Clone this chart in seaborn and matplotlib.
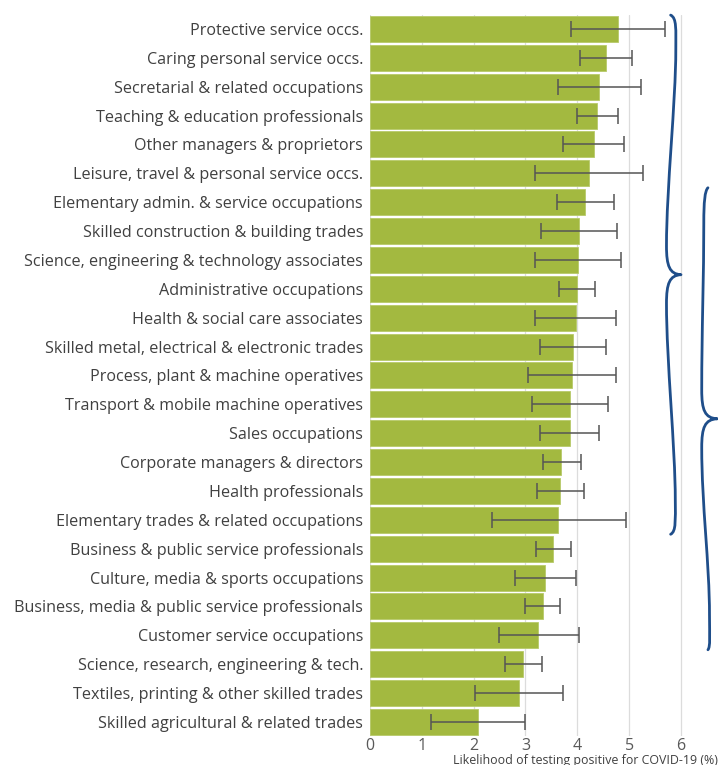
import numpy as np
import pandas as pd
import matplotlib
matplotlib.use("Agg")
import matplotlib.pyplot as plt
from matplotlib.path import Path
from matplotlib.patches import PathPatch
import seaborn as sns

occupations = [
    "Protective service occs.",
    "Caring personal service occs.",
    "Secretarial & related occupations",
    "Teaching & education professionals",
    "Other managers & proprietors",
    "Leisure, travel & personal service occs.",
    "Elementary admin. & service occupations",
    "Skilled construction & building trades",
    "Science, engineering & technology associates",
    "Administrative occupations",
    "Health & social care associates",
    "Skilled metal, electrical & electronic trades",
    "Process, plant & machine operatives",
    "Transport & mobile machine operatives",
    "Sales occupations",
    "Corporate managers & directors",
    "Health professionals",
    "Elementary trades & related occupations",
    "Business & public service professionals",
    "Culture, media & sports occupations",
    "Business, media & public service professionals",
    "Customer service occupations",
    "Science, research, engineering & tech.",
    "Textiles, printing & other skilled trades",
    "Skilled agricultural & related trades",
]
likelihood = [4.79, 4.55, 4.42, 4.38, 4.32, 4.22, 4.15, 4.03, 4.01, 3.99,
              3.97, 3.91, 3.89, 3.86, 3.85, 3.69, 3.67, 3.63, 3.53, 3.38,
              3.33, 3.25, 2.96, 2.87, 2.08]
lower_ci = [3.88, 4.06, 3.62, 3.99, 3.73, 3.18, 3.60, 3.29, 3.18, 3.65,
            3.18, 3.28, 3.04, 3.13, 3.28, 3.33, 3.22, 2.35, 3.20, 2.80,
            3.00, 2.48, 2.60, 2.02, 1.17]
upper_ci = [5.69, 5.06, 5.22, 4.79, 4.91, 5.27, 4.70, 4.77, 4.84, 4.35,
            4.75, 4.55, 4.74, 4.59, 4.41, 4.07, 4.12, 4.93, 3.87, 3.97,
            3.66, 4.03, 3.32, 3.72, 2.99]
x_ticks = [0, 1, 2, 3, 4, 5, 6]
x_label = "Likelihood of testing positive for COVID-19 (%)"

df = pd.DataFrame({"occupation": occupations, "likelihood": likelihood,
                   "lower": lower_ci, "upper": upper_ci})

sns.set_theme(style="white")
plt.rcParams["font.family"] = ["Open Sans", "DejaVu Sans"]

fig = plt.figure(figsize=(7.18, 7.65), dpi=100)
ax = fig.add_axes([370 / 718, 0.0374, 348 / 718, 0.9436])

sns.barplot(data=df, y="occupation", x="likelihood", orient="h",
            color="#A3B940", saturation=1, width=0.9, errorbar=None,
            edgecolor="#B7CA6A", linewidth=0.6, ax=ax, zorder=2)

ypos = np.arange(len(df))
ax.errorbar(df["likelihood"], ypos,
            xerr=[df["likelihood"] - df["lower"], df["upper"] - df["likelihood"]],
            fmt="none", ecolor="#555555", elinewidth=1.1, capsize=6,
            capthick=1.1, zorder=3)

ax.set_xlim(0, 6.714)
ax.set_ylim(len(df) - 0.5, -0.5)
ax.set_xticks(x_ticks)
ax.set_xticklabels([str(t) for t in x_ticks])
ax.xaxis.grid(True, color="#dcdcdc", linewidth=0.9, zorder=0)
ax.set_axisbelow(True)
for s in ax.spines.values():
    s.set_visible(False)
ax.tick_params(axis="x", length=0, pad=1.5, labelsize=11.5, labelcolor="#595959")
ax.tick_params(axis="y", length=0, pad=5, labelsize=11.6, labelcolor="#404040")
ax.set_xlabel("")
ax.set_ylabel("")
fig.text(0.9995, -0.002, x_label, ha="right", va="bottom",
         fontsize=8.9, color="#404040")


def brace(ax, y0, y1, x_end, x_top, x_mid, x_bot, x_tip):
    """Right-pointing curly brace from y0 to y1 (data coordinates)."""
    ym = (y0 + y1) / 2
    verts = [
        (x_end, y0),
        (x_top + 0.02, y0 + 0.1), (x_top, y0 + 0.5), (x_top, y0 + 1.2),
        (x_top, y0 + 3.0), (x_mid, ym - 3.0), (x_mid, ym - 1.0),
        (x_mid, ym - 0.3), (x_mid + 0.06, ym - 0.02), (x_tip, ym),
        (x_mid + 0.06, ym + 0.02), (x_mid, ym + 0.3), (x_mid, ym + 1.0),
        (x_mid, ym + 3.0), (x_bot, y1 - 3.0), (x_bot, y1 - 1.2),
        (x_bot, y1 - 0.5), (x_bot + 0.02, y1 - 0.1), (x_end, y1),
    ]
    codes = [Path.MOVETO] + [Path.CURVE4] * (len(verts) - 1)
    patch = PathPatch(Path(verts, codes), facecolor="none",
                      edgecolor="#1F4E8A", linewidth=2.0, clip_on=False,
                      capstyle="round", joinstyle="round", zorder=4)
    ax.add_patch(patch)


brace(ax, -0.48, 17.5, 5.80, 5.90, 5.72, 5.89, 6.00)
brace(ax, 5.5, 21.5, 6.52, 6.44, 6.40, 6.55, 6.70)

fig.savefig("out.png", dpi=100)
